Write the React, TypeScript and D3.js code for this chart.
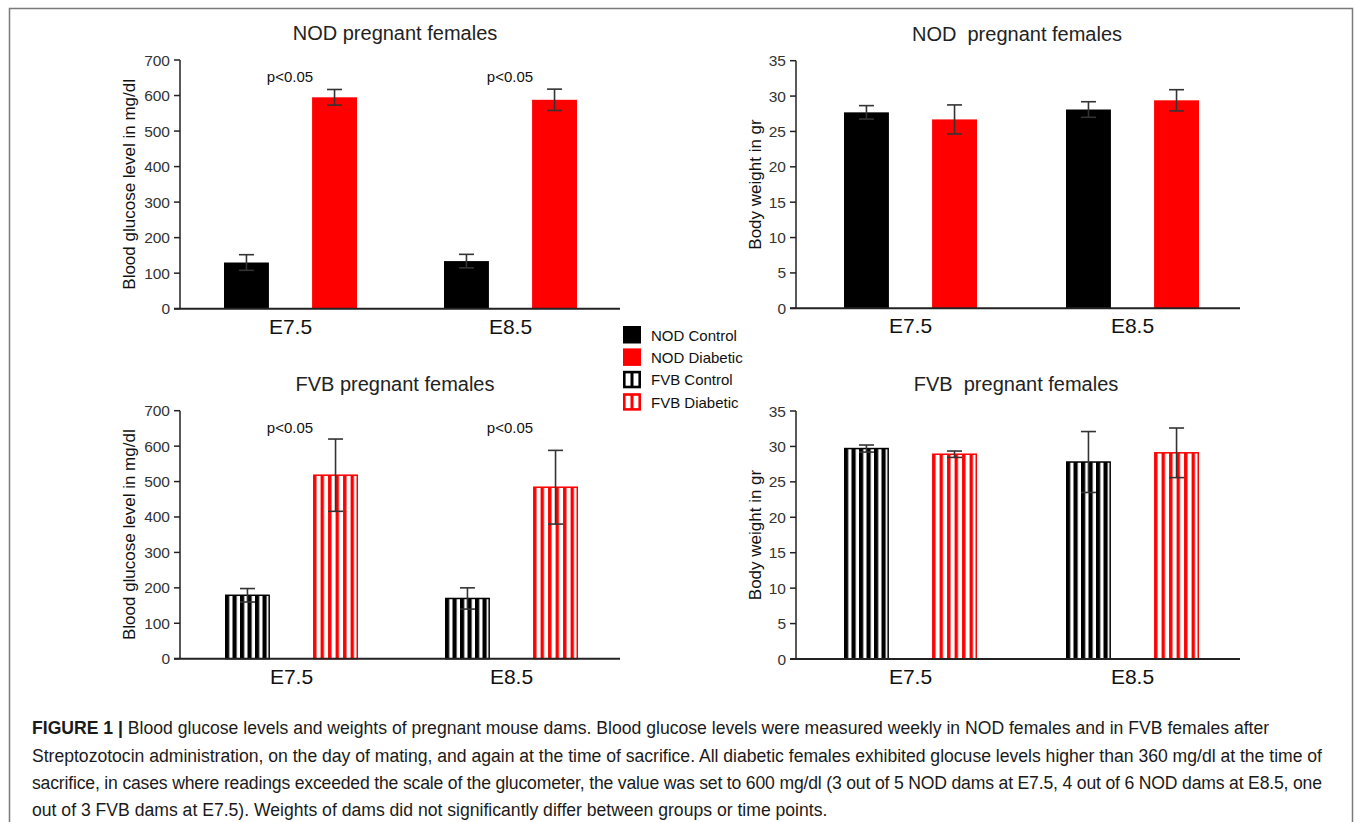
import React from "react";
import * as d3 from "d3";

// ---------- data ----------
const groups = ["E7.5", "E8.5"];
const seriesNames = ["NOD Control", "NOD Diabetic", "FVB Control", "FVB Diabetic"];

const nodGlucoseControl = [130, 134];
const nodGlucoseControlErr = [22, 19];
const nodGlucoseDiabetic = [595, 588];
const nodGlucoseDiabeticErr = [22, 30];

const nodWeightControl = [27.7, 28.1];
const nodWeightControlErr = [0.95, 1.1];
const nodWeightDiabetic = [26.7, 29.4];
const nodWeightDiabeticErr = [2.05, 1.5];

const fvbGlucoseControl = [179, 170];
const fvbGlucoseControlErr = [19, 30];
const fvbGlucoseDiabetic = [518, 484];
const fvbGlucoseDiabeticErr = [102, 104];

const fvbWeightControl = [29.7, 27.8];
const fvbWeightControlErr = [0.5, 4.3];
const fvbWeightDiabetic = [28.9, 29.1];
const fvbWeightDiabeticErr = [0.45, 3.5];

const glucoseTicks = [0, 100, 200, 300, 400, 500, 600, 700];
const weightTicks = [0, 5, 10, 15, 20, 25, 30, 35];
const pLabels = ["p<0.05", "p<0.05"];

const captionLines = [
  "Blood glucose levels and weights of pregnant mouse dams. Blood glucose levels were measured weekly in NOD females and in FVB females after",
  "Streptozotocin administration, on the day of mating, and again at the time of sacrifice. All diabetic females exhibited glocuse levels higher than 360 mg/dl at the time of",
  "sacrifice, in cases where readings exceeded the scale of the glucometer, the value was set to 600 mg/dl (3 out of 5 NOD dams at E7.5, 4 out of 6 NOD dams at E8.5, one",
  "out of 3 FVB dams at E7.5). Weights of dams did not significantly differ between groups or time points.",
];

const FONT = "'Liberation Sans', Arial, Helvetica, sans-serif";
const RED = "#ff0000";
const BLACK = "#000000";

type Panel = {
  id: string;
  title: string;
  yLabel: string;
  ticks: number[];
  yMax: number;
  ctrl: number[];
  ctrlErr: number[];
  diab: number[];
  diabErr: number[];
  striped: boolean;
  pvals: boolean;
  x0: number;
  x1: number;
  yTop: number;
  yBottom: number;
  inner: [number, number];
  titleX: number;
  yLabelX: number;
};

const panels: Panel[] = [
  {
    id: "nodG", title: "NOD pregnant females", yLabel: "Blood glucose level in mg/dl",
    ticks: glucoseTicks, yMax: 700,
    ctrl: nodGlucoseControl, ctrlErr: nodGlucoseControlErr,
    diab: nodGlucoseDiabetic, diabErr: nodGlucoseDiabeticErr,
    striped: false, pvals: true,
    x0: 180, x1: 620, yTop: 60, yBottom: 308.7, inner: [44, 177], titleX: 395, yLabelX: 131,
  },
  {
    id: "nodW", title: "NOD\u00a0 pregnant females", yLabel: "Body weight in gr",
    ticks: weightTicks, yMax: 35,
    ctrl: nodWeightControl, ctrlErr: nodWeightControlErr,
    diab: nodWeightDiabetic, diabErr: nodWeightDiabeticErr,
    striped: false, pvals: false,
    x0: 796, x1: 1240, yTop: 60.7, yBottom: 308.3, inner: [48, 181], titleX: 1017, yLabelX: 757,
  },
  {
    id: "fvbG", title: "FVB pregnant females", yLabel: "Blood glucose level in mg/dl",
    ticks: glucoseTicks, yMax: 700,
    ctrl: fvbGlucoseControl, ctrlErr: fvbGlucoseControlErr,
    diab: fvbGlucoseDiabetic, diabErr: fvbGlucoseDiabeticErr,
    striped: true, pvals: true,
    x0: 180, x1: 620, yTop: 410.7, yBottom: 658.7, inner: [45, 178], titleX: 395, yLabelX: 131,
  },
  {
    id: "fvbW", title: "FVB\u00a0 pregnant females", yLabel: "Body weight in gr",
    ticks: weightTicks, yMax: 35,
    ctrl: fvbWeightControl, ctrlErr: fvbWeightControlErr,
    diab: fvbWeightDiabetic, diabErr: fvbWeightDiabeticErr,
    striped: true, pvals: false,
    x0: 796, x1: 1240, yTop: 411, yBottom: 659, inner: [48, 181], titleX: 1016, yLabelX: 757,
  },
];

const PERIOD = 7.5;

function StripePattern({ id, x, color }: { id: string; x: number; color: string }) {
  return (
    <pattern id={id} patternUnits="userSpaceOnUse" x={x} y={0} width={PERIOD} height={10}>
      <rect x={0} y={0} width={PERIOD} height={10} fill="#fff" />
      <rect x={0} y={0} width={color === BLACK ? 4.2 : 3.4} height={10} fill={color} />
    </pattern>
  );
}

function ChartPanel({ p }: { p: Panel }) {
  const x = d3.scaleBand<string>().domain(groups).range([p.x0, p.x1]).padding(0);
  const xi = d3.scaleBand<string>().domain(["ctrl", "diab"]).range(p.inner).paddingInner(0.49).paddingOuter(0);
  const y = d3.scaleLinear().domain([0, p.yMax]).range([p.yBottom, p.yTop]);
  const bw = xi.bandwidth();
  const capHalf = 7.5;

  const bars: { key: string; g: string; s: "ctrl" | "diab"; v: number; e: number }[] = [];
  groups.forEach((g, i) => {
    bars.push({ key: `${p.id}-c-${i}`, g, s: "ctrl", v: p.ctrl[i], e: p.ctrlErr[i] });
    bars.push({ key: `${p.id}-d-${i}`, g, s: "diab", v: p.diab[i], e: p.diabErr[i] });
  });

  return (
    <g>
      <defs>
        {p.striped &&
          bars.map((b) => {
            const bx = (x(b.g) as number) + (xi(b.s) as number);
            return <StripePattern key={b.key} id={`pat-${b.key}`} x={bx} color={b.s === "ctrl" ? BLACK : RED} />;
          })}
      </defs>
      <text x={p.titleX} y={p.yTop - 20} textAnchor="middle" fontSize={20} fill="#222" fontFamily={FONT}>
        {p.title}
      </text>
      <text
        transform={`translate(${p.yLabelX},${(p.yTop + p.yBottom) / 2}) rotate(-90)`}
        textAnchor="middle"
        dominantBaseline="middle"
        fontSize={17}
        fill="#111"
        fontFamily={FONT}
      >
        {p.yLabel}
      </text>
      {bars.map((b) => {
        const bx = (x(b.g) as number) + (xi(b.s) as number);
        const top = y(b.v);
        const color = b.s === "ctrl" ? BLACK : RED;
        if (p.striped) {
          return (
            <rect
              key={b.key}
              x={bx + 0.75}
              y={top}
              width={bw - 1.5}
              height={p.yBottom - top}
              fill={`url(#pat-${b.key})`}
              stroke={color}
              strokeWidth={1.5}
            />
          );
        }
        return <rect key={b.key} x={bx} y={top} width={bw} height={p.yBottom - top} fill={color} />;
      })}
      {bars.map((b) => {
        const cx = (x(b.g) as number) + (xi(b.s) as number) + bw / 2;
        const hi = y(b.v + b.e);
        const lo = y(b.v - b.e);
        return (
          <g key={`err-${b.key}`} stroke="#333" strokeWidth={1.6}>
            <line x1={cx} x2={cx} y1={hi} y2={lo} />
            <line x1={cx - capHalf} x2={cx + capHalf} y1={hi} y2={hi} />
            <line x1={cx - capHalf} x2={cx + capHalf} y1={lo} y2={lo} />
          </g>
        );
      })}
      <line x1={p.x0} x2={p.x0} y1={p.yTop} y2={p.yBottom} stroke="#222" strokeWidth={1.5} />
      {p.ticks.map((t) => (
        <g key={`t-${t}`}>
          <line x1={p.x0 - 6} x2={p.x0} y1={y(t)} y2={y(t)} stroke="#222" strokeWidth={1.5} />
          <text
            x={p.x0 - 10}
            y={y(t)}
            textAnchor="end"
            dominantBaseline="central"
            fontSize={15.5}
            fill="#333"
            fontFamily={FONT}
          >
            {t}
          </text>
        </g>
      ))}
      <line x1={p.x0 - 6} x2={p.x1} y1={p.yBottom} y2={p.yBottom} stroke="#222" strokeWidth={2} />
      {groups.map((g) => (
        <text
          key={`xl-${g}`}
          x={(x(g) as number) + x.bandwidth() / 2 + (p.inner[0] + p.inner[1] - x.bandwidth()) / 2}
          y={p.yBottom + 25}
          textAnchor="middle"
          fontSize={21}
          fill="#111"
          fontFamily={FONT}
        >
          {g}
        </text>
      ))}
      {p.pvals &&
        groups.map((g, i) => (
          <text
            key={`p-${g}`}
            x={(x(g) as number) + x.bandwidth() / 2}
            y={p.yTop + 22}
            textAnchor="middle"
            fontSize={15}
            fill="#111"
            fontFamily={FONT}
          >
            {pLabels[i]}
          </text>
        ))}
    </g>
  );
}

function Legend() {
  const lx = 623;
  const ly = 326;
  const step = 22.4;
  return (
    <g>
      {seriesNames.map((s, i) => {
        const color = i % 2 === 0 ? BLACK : RED;
        const striped = i >= 2;
        const yy = ly + i * step;
        return (
          <g key={s}>
            <rect x={lx} y={yy} width={18} height={17.5} fill={color} />
            {striped && (
              <>
                <rect x={lx + 2.6} y={yy + 2.6} width={4.9} height={12.3} fill="#fff" />
                <rect x={lx + 10.5} y={yy + 2.6} width={4.9} height={12.3} fill="#fff" />
              </>
            )}
            <text x={lx + 28} y={yy + 9} dominantBaseline="central" fontSize={15} fill="#111" fontFamily={FONT}>
              {s}
            </text>
          </g>
        );
      })}
    </g>
  );
}

function Caption() {
  const x0 = 32;
  const baselines = [734, 762, 789, 816];
  const justify = [false, true, true, false];
  return (
    <g fontFamily={FONT} fontSize={17.6} fill="#1a1a1a">
      {captionLines.map((line, i) => (
        <text
          key={i}
          x={x0}
          y={baselines[i]}
          {...(justify[i] ? { textLength: 1322 - x0, lengthAdjust: "spacing" } : {})}
        >
          {i === 0 && <tspan fontWeight="bold">FIGURE 1 | </tspan>}
          {line}
        </text>
      ))}
    </g>
  );
}

export default function App() {
  return (
    <svg
      width={1355}
      height={822}
      style={{ position: "absolute", left: 0, top: 0, background: "#fff" }}
      xmlns="http://www.w3.org/2000/svg"
    >
      <rect x={0} y={0} width={1355} height={822} fill="#fff" />
      <rect x={9.5} y={8.5} width={1343} height={900} fill="none" stroke="#7a7a7a" strokeWidth={1.5} />
      {panels.map((p) => (
        <ChartPanel key={p.id} p={p} />
      ))}
      <Legend />
      <Caption />
    </svg>
  );
}
